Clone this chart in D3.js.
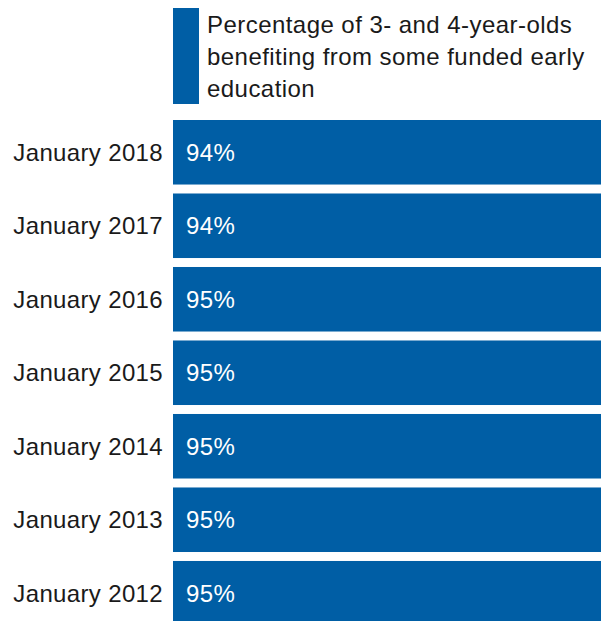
<!DOCTYPE html>
<html>
<head>
<meta charset="utf-8">
<script src="https://cdn.jsdelivr.net/npm/d3@7"></script>
<style>
  body { margin: 0; background: #fff; }
  svg { display: block; font-family: "Liberation Sans", Arial, sans-serif; }
</style>
</head>
<body>
<div id="chart"></div>
<script>
// DATA -----------------------------------------------------------------------

var categories = ["January 2018", "January 2017", "January 2016", "January 2015",
                  "January 2014", "January 2013", "January 2012"];
var values = [94, 94, 95, 95, 95, 95, 95];
var seriesName = ["Percentage of 3- and 4-year-olds",
                  "benefiting from some funded early",
                  "education"];

// LAYOUT ---------------------------------------------------------------------

var width = 601, height = 621;
var left = 173;
var blue = "#005ea5";
var fontSize = 24;
var spacing = 0.35; // reference glyphs sit a touch wider

var svg = d3.select("#chart").append("svg")
    .attr("width", width)
    .attr("height", height);

// bars run off the right edge in the original, so the scale overshoots
var x = d3.scaleLinear().domain([0, 90]).range([left, width]);
var y = d3.scaleBand().domain(categories)
    .range([120, 120 + 73.5 * 6 + 64.5])
    .paddingInner(0.122).paddingOuter(0);

// legend
svg.append("rect")
    .attr("x", 173).attr("y", 8)
    .attr("width", 26).attr("height", 96)
    .attr("fill", blue);

svg.append("text")
    .attr("x", 207).attr("y", 33)
    .attr("font-size", fontSize)
    .attr("letter-spacing", 0.45)
    .attr("fill", "#1a1a1a")
    .selectAll("tspan").data(seriesName).enter()
    .append("tspan")
    .attr("x", 207)
    .attr("dy", function(d, i) { return i == 0 ? 0 : 32; })
    .text(function(d) { return d; });

// bars
svg.selectAll(".bar").data(values).enter()
    .append("rect")
    .attr("class", "bar")
    .attr("x", x(0))
    .attr("y", function(d, i) { return y(categories[i]); })
    .attr("width", function(d) { return x(d) - x(0); })
    .attr("height", y.bandwidth())
    .attr("fill", blue);

// value labels
svg.selectAll(".val").data(values).enter()
    .append("text")
    .attr("class", "val")
    .attr("x", x(0) + 13)
    .attr("y", function(d, i) { return y(categories[i]) + y.bandwidth() / 2 + 8.5; })
    .attr("font-size", fontSize)
    .attr("letter-spacing", spacing)
    .attr("fill", "#fff")
    .text(function(d) { return d + "%"; });

// category axis
var axis = d3.axisLeft(y).tickSize(0).tickPadding(10);
var g = svg.append("g")
    .attr("transform", "translate(" + left + ",0)")
    .call(axis);
g.select(".domain").remove();
g.selectAll("text")
    .attr("font-size", fontSize)
    .attr("font-family", "Liberation Sans, Arial, sans-serif")
    .attr("letter-spacing", spacing)
    .attr("dy", "0.36em")
    .attr("fill", "#1a1a1a");
</script>
</body>
</html>
